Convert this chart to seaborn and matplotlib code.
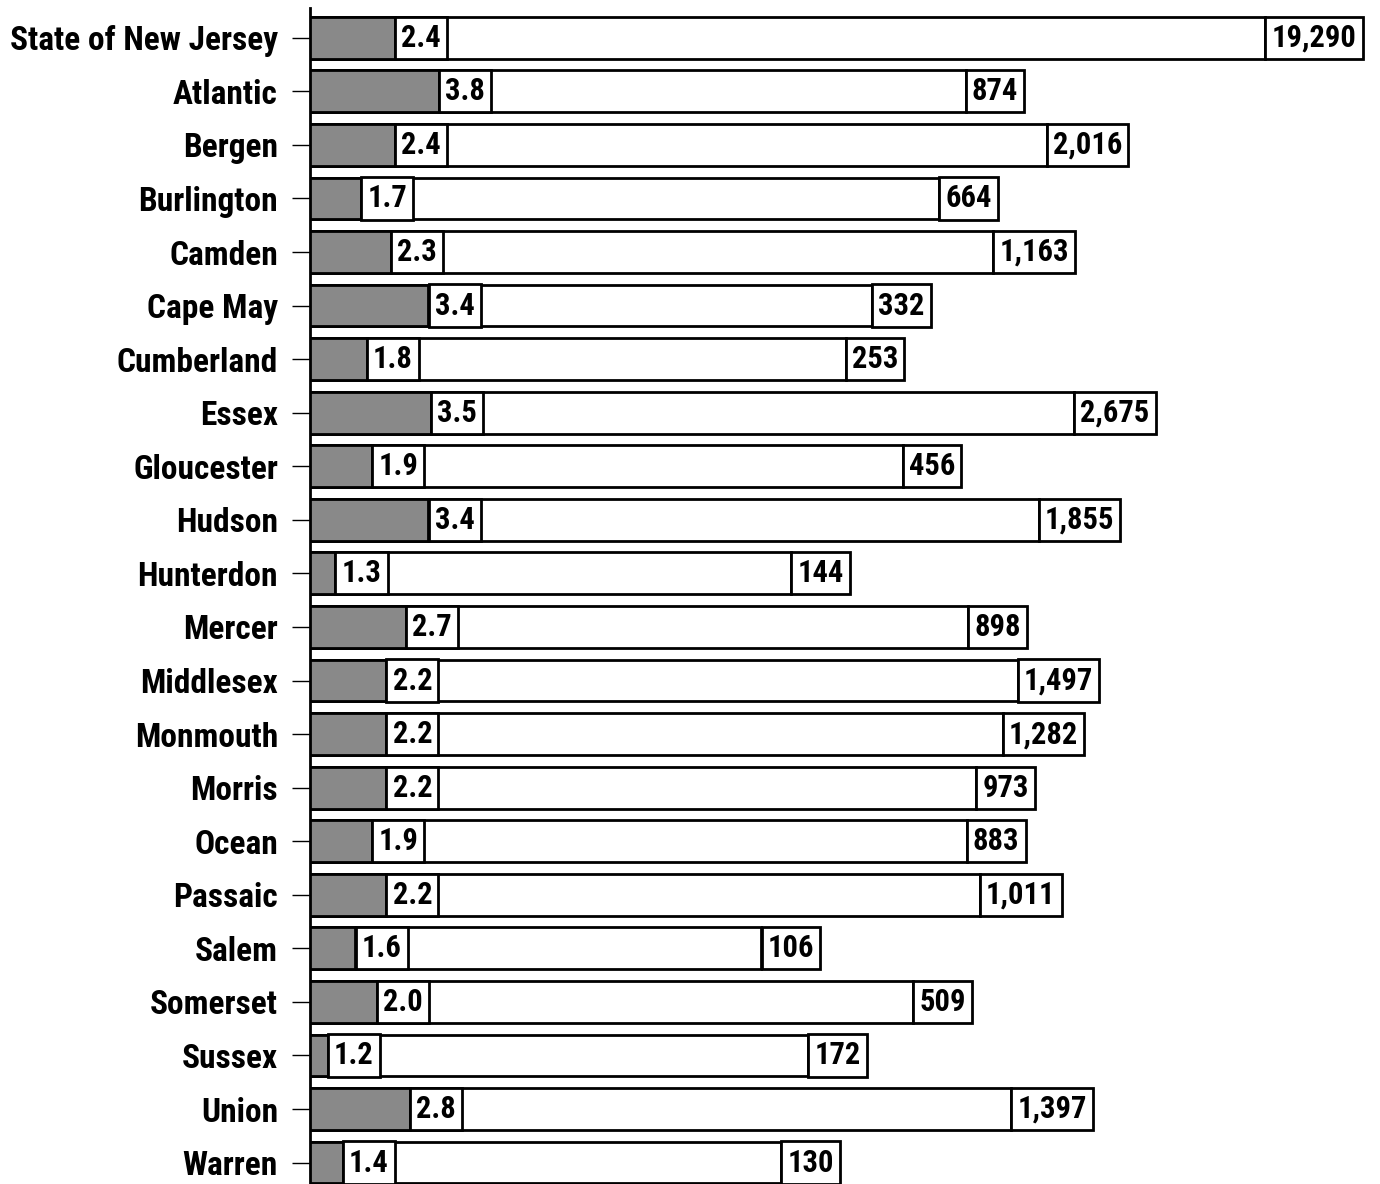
import numpy as np
import pandas as pd
import seaborn as sns
import matplotlib.pyplot as plt
from matplotlib import font_manager as fm

counties = ["State of New Jersey", "Atlantic", "Bergen", "Burlington", "Camden", "Cape May",
            "Cumberland", "Essex", "Gloucester", "Hudson", "Hunterdon", "Mercer", "Middlesex",
            "Monmouth", "Morris", "Ocean", "Passaic", "Salem", "Somerset", "Sussex", "Union", "Warren"]
rates = [2.4, 3.8, 2.4, 1.7, 2.3, 3.4, 1.8, 3.5, 1.9, 3.4, 1.3, 2.7, 2.2, 2.2, 2.2, 1.9, 2.2,
         1.6, 2.0, 1.2, 2.8, 1.4]
counts = [19290, 874, 2016, 664, 1163, 332, 253, 2675, 456, 1855, 144, 898, 1497, 1282, 973,
          883, 1011, 106, 509, 172, 1397, 130]

d = pd.DataFrame({"county": counties, "rate": rates, "count": counts})

sns.set_style("white")

# condensed bold face if there is one, else plain DejaVu a bit smaller
have = set(f.name for f in fm.fontManager.ttflist)
fam, fs, lfs = "DejaVu Sans", 18, 19
for cand in ["Roboto Condensed", "Liberation Sans Narrow", "Archivo Narrow", "PT Sans Narrow",
             "Fira Sans Condensed", "Open Sans Condensed", "Barlow Condensed", "Encode Sans Condensed"]:
    if cand in have:
        fam, fs, lfs = cand, 22, 24
        break
plt.rcParams["font.family"] = [fam, "DejaVu Sans"]
plt.rcParams["text.color"] = "black"
plt.rcParams["ytick.color"] = "black"

fig = plt.figure(figsize=(13.8, 11.84), dpi=100)
ax = fig.add_axes([0.2246, 0.0, 0.7754, 0.993])

# white bar = number of cases, grey bar = rate, both on one log axis
sns.barplot(data=d, x="count", y="county", color="white", edgecolor="black", linewidth=2,
            width=0.78, saturation=1, ax=ax)
sns.barplot(data=d, x="rate", y="county", color="#898989", edgecolor="black", linewidth=2,
            width=0.78, saturation=1, ax=ax)
ax.set_xscale("log")

box = dict(boxstyle="square,pad=0.2", fc="white", ec="black", lw=2)
for i in range(len(d)):
    ax.annotate(f"{rates[i]:.1f}", xy=(rates[i], i), xytext=(4.5, 0), textcoords="offset points",
                ha="left", va="center", fontsize=fs, fontweight="bold", bbox=box)
    ax.annotate(f"{counts[i]:,}", xy=(counts[i], i), xytext=(4.5, 0), textcoords="offset points",
                ha="left", va="center", fontsize=fs, fontweight="bold", bbox=box)

ax.set_xlim(1, 10 ** 4.8)
ax.set_ylim(21.4, -0.55)
ax.set_xlabel("")
ax.set_ylabel("")
ax.minorticks_off()
ax.tick_params(axis="x", which="both", bottom=False, labelbottom=False)
ax.tick_params(axis="y", left=True, length=13, width=1, pad=10, labelsize=lfs, colors="black")
for lab in ax.get_yticklabels():
    lab.set_fontweight("bold")
for s in ["top", "right", "bottom"]:
    ax.spines[s].set_visible(False)
ax.spines["left"].set_linewidth(2)
ax.spines["left"].set_color("black")

fig.savefig("out.png", dpi=100)
